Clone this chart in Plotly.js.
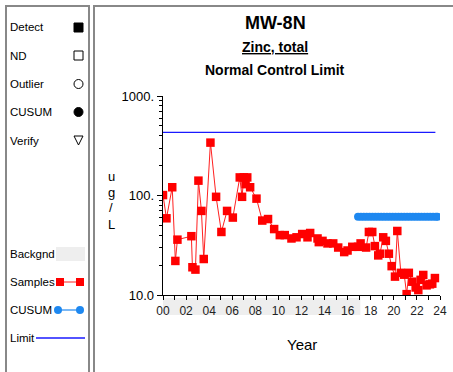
<!DOCTYPE html>
<html><head><meta charset="utf-8">
<script src="https://cdn.plot.ly/plotly-3.0.1.min.js"></script>
<style>html,body{margin:0;padding:0;background:#fff;}#chart{width:453px;height:372px;}</style>
</head><body><div id="chart"></div>
<script>
// ---- data ----
const sampleYears = [0.0,0.3,0.8,1.07,1.25,2.46,2.55,2.81,3.07,3.33,3.53,4.11,4.6,5.06,5.55,6.05,6.65,6.85,7.0,7.15,7.3,7.55,8.1,8.6,9.1,9.63,10.12,10.55,11.13,11.57,12.06,12.52,12.75,13.39,13.5,13.82,14.25,14.75,15.18,15.7,15.99,16.4,16.9,17.12,17.6,17.84,18.13,18.36,18.65,18.8,19.08,19.31,19.57,19.81,20.1,20.3,20.61,20.9,21.11,21.3,21.6,21.89,22.12,22.32,22.55,22.84,23.13,23.33,23.56];
const zincValues = [101,59,121,22,36,39,19,18,141,70,23,340,97,43,70,60,152,97,152,130,152,121,93,56,58,46,40,40,37,38,41,38,42,37,34,35,33,33,30,27,28,30.5,30.5,33,30,43,43,31,25,26,38,35,26,19.5,15.3,44,16.7,16,10.2,16.7,13.6,11.9,11.2,14.2,15.9,12.5,12.8,13,14.8];
const cusumYears = [16.9,17.15,17.4,17.65,17.9,18.15,18.4,18.65,18.9,19.15,19.4,19.65,19.9,20.15,20.4,20.65,20.9,21.15,21.4,21.65,21.9,22.15,22.4,22.65,22.9,23.15,23.4,23.65,23.8];
const cusumValues = [61,61,61,61,61,61,61,61,61,61,61,61,61,61,61,61,61,61,61,61,61,61,61,61,61,61,61,61,61];
const limitYears = [0, 23.6];
const limitValues = [430, 430];
const backgroundPeriod = [0, 17.1];
const xTickVals = [0,1,2,3,4,5,6,7,8,9,10,11,12,13,14,15,16,17,18,19,20,21,22,23,24];
const xTickText = ['00','','02','','04','','06','','08','','10','','12','','14','','16','','18','','20','','22','','24'];
const yTickVals = [10, 100, 1000];
const yTickText = ['10.0', '100.', '1000.'];
const yMinorVals = [20,30,40,50,60,70,80,90,200,300,400,500,600,700,800,900];
const legendLabels = ['Detect','ND','Outlier','CUSUM','Verify','Backgnd','Samples','CUSUM','Limit'];
const yTitleLetters = ['u', 'g', '/', 'L'];

// ---- layout helpers (pixels -> paper) ----
const W = 453, H = 372;
const px = x => x / W;
const py = y => 1 - y / H;
const FONT = 'Liberation Sans, Arial, sans-serif';

const traces = [
  {x: limitYears, y: limitValues, mode: 'lines', line: {color: '#1a1aff', width: 1.3}, hoverinfo: 'skip'},
  {x: cusumYears, y: cusumValues, mode: 'lines+markers', line: {color: '#7ab8f5', width: 2},
   marker: {color: '#1e88f0', size: 8, symbol: 'circle'}, hoverinfo: 'skip'},
  {x: sampleYears, y: zincValues, mode: 'lines+markers', line: {color: '#ff2020', width: 1},
   marker: {color: '#ff0000', size: 8.5, symbol: 'square'}, hoverinfo: 'skip'}
];

const shapes = [
  // panel frames
  {type: 'rect', xref: 'paper', yref: 'paper', x0: px(6), x1: px(89), y0: py(380), y1: py(6), line: {color: '#888', width: 2}},
  {type: 'rect', xref: 'paper', yref: 'paper', x0: px(94), x1: px(460), y0: py(380), y1: py(6), line: {color: '#888', width: 2}},
  // background band under x axis
  {type: 'rect', xref: 'x', yref: 'paper', x0: backgroundPeriod[0], x1: backgroundPeriod[1], y0: py(315), y1: py(298), fillcolor: '#eeeeee', line: {width: 0}, layer: 'below'},
  // legend symbols
  {type: 'rect', xref: 'paper', yref: 'paper', x0: px(74), x1: px(83), y0: py(32), y1: py(23), fillcolor: '#000', line: {color: '#000', width: 1}},
  {type: 'rect', xref: 'paper', yref: 'paper', x0: px(74), x1: px(83), y0: py(60), y1: py(51), fillcolor: 'rgba(0,0,0,0)', line: {color: '#000', width: 1}},
  {type: 'circle', xref: 'paper', yref: 'paper', x0: px(74), x1: px(83), y0: py(88.5), y1: py(79.5), line: {color: '#000', width: 1}},
  {type: 'circle', xref: 'paper', yref: 'paper', x0: px(74), x1: px(83), y0: py(116.5), y1: py(107.5), fillcolor: '#000', line: {color: '#000', width: 1}},
  {type: 'path', xref: 'paper', yref: 'paper', path: `M ${px(74)} ${py(136)} L ${px(83)} ${py(136)} L ${px(78.5)} ${py(145)} Z`, line: {color: '#000', width: 1}},
  {type: 'rect', xref: 'paper', yref: 'paper', x0: px(56), x1: px(85), y0: py(261), y1: py(247), fillcolor: '#eeeeee', line: {width: 0}},
  {type: 'line', xref: 'paper', yref: 'paper', x0: px(60), x1: px(80), y0: py(282), y1: py(282), line: {color: '#ff2020', width: 1}},
  {type: 'rect', xref: 'paper', yref: 'paper', x0: px(56), x1: px(64), y0: py(286), y1: py(278), fillcolor: '#ff0000', line: {width: 0}},
  {type: 'rect', xref: 'paper', yref: 'paper', x0: px(76), x1: px(84), y0: py(286), y1: py(278), fillcolor: '#ff0000', line: {width: 0}},
  {type: 'line', xref: 'paper', yref: 'paper', x0: px(58), x1: px(80), y0: py(310), y1: py(310), line: {color: '#7ab8f5', width: 2}},
  {type: 'circle', xref: 'paper', yref: 'paper', x0: px(54), x1: px(62), y0: py(314), y1: py(306), fillcolor: '#1e88f0', line: {width: 0}},
  {type: 'circle', xref: 'paper', yref: 'paper', x0: px(76), x1: px(84), y0: py(314), y1: py(306), fillcolor: '#1e88f0', line: {width: 0}},
  {type: 'line', xref: 'paper', yref: 'paper', x0: px(36), x1: px(85), y0: py(338), y1: py(338), line: {color: '#1a1aff', width: 1.3}}
];

const legendY = [27, 56, 84, 112, 141, 254, 282, 310, 338];
const annotations = legendLabels.map((t, i) => ({
  text: t, xref: 'paper', yref: 'paper', x: px(8), y: py(legendY[i]), xanchor: 'left', yanchor: 'middle',
  showarrow: false, font: {family: FONT, size: 11.5, color: '#000'}
}));
annotations.push(
  {text: '<b>MW-8N</b>', xref: 'paper', yref: 'paper', x: px(275), y: py(23), xanchor: 'center', yanchor: 'middle', showarrow: false, font: {family: FONT, size: 18, color: '#000'}},
  {text: '<b><u>Zinc, total</u></b>', xref: 'paper', yref: 'paper', x: px(275), y: py(46.5), xanchor: 'center', yanchor: 'middle', showarrow: false, font: {family: FONT, size: 14, color: '#000'}},
  {text: '<b>Normal Control Limit</b>', xref: 'paper', yref: 'paper', x: px(275), y: py(70), xanchor: 'center', yanchor: 'middle', showarrow: false, font: {family: FONT, size: 14, color: '#000'}},
  {text: 'Year', xref: 'paper', yref: 'paper', x: px(302), y: py(344), xanchor: 'center', yanchor: 'middle', showarrow: false, font: {family: FONT, size: 15, color: '#000'}}
);
yTitleLetters.forEach((c, i) => annotations.push({
  text: c, xref: 'paper', yref: 'paper', x: px(111), y: py(176 + i * 16), xanchor: 'center', yanchor: 'middle',
  borderpad: 0,
  showarrow: false, font: {family: FONT, size: 13, color: '#000'}
}));

const layout = {
  width: W, height: H,
  margin: {l: 0, r: 0, t: 0, b: 0},
  paper_bgcolor: '#fff', plot_bgcolor: 'rgba(0,0,0,0)',
  showlegend: false,
  xaxis: {
    domain: [px(163), px(440)], range: [0, 24], showgrid: false, zeroline: false,
    showline: true, linecolor: '#000', linewidth: 1.3,
    tickmode: 'array', tickvals: xTickVals, ticktext: xTickText,
    ticks: 'outside', ticklen: 4, tickcolor: '#000', tickwidth: 1,
    tickfont: {family: FONT, size: 12, color: '#222'}
  },
  yaxis: {
    type: 'log', domain: [py(295), py(96)], range: [1, 3], showgrid: false, zeroline: false,
    showline: true, linecolor: '#000', linewidth: 1.3,
    tickmode: 'array', tickvals: yTickVals, ticktext: yTickText,
    ticks: 'outside', ticklen: 5, tickcolor: '#000', tickwidth: 1,
    tickfont: {family: FONT, size: 13, color: '#000'},
    minor: {tickmode: 'array', tickvals: yMinorVals, ticks: 'outside', ticklen: 3, tickcolor: '#000', showgrid: false}
  },
  shapes: shapes,
  annotations: annotations
};

Plotly.newPlot('chart', traces, layout, {staticPlot: true, displayModeBar: false});
</script>
</body></html>
